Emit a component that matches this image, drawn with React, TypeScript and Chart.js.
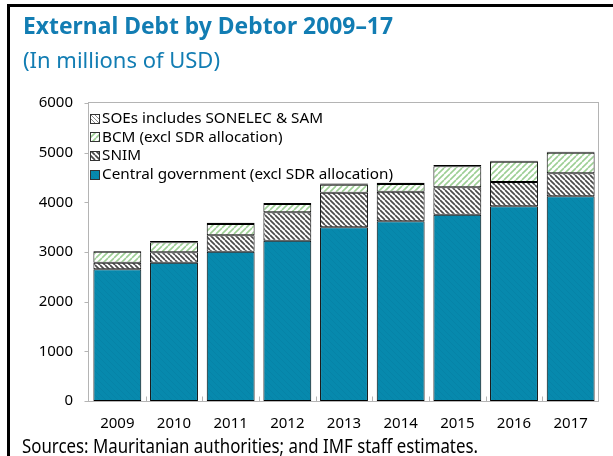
import React, { useEffect, useRef } from "react";
import { Chart, registerables } from "chart.js";

Chart.register(...registerables);

// ---- Data ----
const categories = ["2009", "2010", "2011", "2012", "2013", "2014", "2015", "2016", "2017"];
const centralGovernment = [2652, 2785, 3006, 3227, 3497, 3618, 3751, 3919, 4121];
const snim = [133, 209, 330, 572, 697, 597, 551, 490, 463];
const bcm = [221, 201, 228, 167, 161, 154, 423, 409, 415];
const soes = [15, 25, 25, 20, 25, 25, 25, 20, 20];
const yTickValues = [0, 1000, 2000, 3000, 4000, 5000, 6000];
const seriesNames = [
  "Central government (excl SDR allocation)",
  "SNIM",
  "BCM (excl SDR allocation)",
  "SOEs includes SONELEC & SAM",
];
const titleText = "External Debt by Debtor 2009\u201317";
const subtitleText = "(In millions of USD)";
const sourceText = "Sources: Mauritanian authorities; and IMF staff estimates.";

const FONT = "'Noto Sans', sans-serif";
const TITLE_COLOR = "#127db3";

function makePattern(bg: string, stroke: string, lw: number, size: number, dir: "up" | "down") {
  const c = document.createElement("canvas");
  c.width = size;
  c.height = size;
  const g = c.getContext("2d")!;
  g.fillStyle = bg;
  g.fillRect(0, 0, size, size);
  g.strokeStyle = stroke;
  g.lineWidth = lw;
  g.beginPath();
  for (const k of [-size, 0, size]) {
    if (dir === "down") {
      g.moveTo(k, 0);
      g.lineTo(k + size, size);
    } else {
      g.moveTo(k, size);
      g.lineTo(k + size, 0);
    }
  }
  g.stroke();
  return g.createPattern(c, "repeat")!;
}

export default function App() {
  const canvasRef = useRef<HTMLCanvasElement>(null);
  const titleRef = useRef<HTMLSpanElement>(null);
  const subRef = useRef<HTMLSpanElement>(null);
  const srcRef = useRef<HTMLSpanElement>(null);

  useEffect(() => {
    document.body.style.margin = "0";
    const fit = (el: HTMLElement | null, target: number) => {
      if (!el) return;
      el.style.transform = "";
      const w = el.getBoundingClientRect().width;
      if (w > 0) el.style.transform = `scaleX(${target / w})`;
    };
    fit(titleRef.current, 370);
    fit(subRef.current, 197);
    fit(srcRef.current, 456);

    const fills = [
      makePattern("#0789ad", "rgba(0,70,100,0.08)", 1, 6, "down"),
      makePattern("#ffffff", "#4a4a4a", 1.7, 5, "down"),
      makePattern("#ffffff", "#9dcf95", 1.6, 6, "up"),
      makePattern("#ffffff", "#8a8a8a", 1, 4, "down"),
    ];
    const series = [centralGovernment, snim, bcm, soes];

    const framePlugin = {
      id: "frame",
      beforeDatasetsDraw(chart: any) {
        const { ctx, chartArea } = chart;
        const { left, top, right, bottom } = chartArea;
        ctx.save();
        ctx.strokeStyle = "#b4b4b4";
        ctx.lineWidth = 1;
        const l = Math.round(left) - 0.5;
        const t = Math.round(top) - 0.5;
        const r = Math.round(right) - 0.5;
        const b = Math.round(bottom) + 0.5;
        ctx.strokeRect(l, t, r - l, b - t);
        ctx.beginPath();
        const ys = chart.scales.y;
        for (const v of yTickValues) {
          const y = Math.round(ys.getPixelForValue(v)) + 0.5;
          ctx.moveTo(l - 4, y);
          ctx.lineTo(l, y);
        }
        const xs = chart.scales.x;
        for (let i = 1; i < categories.length; i++) {
          const x = Math.round((xs.getPixelForValue(i - 1) + xs.getPixelForValue(i)) / 2) + 0.5;
          ctx.moveTo(x, b);
          ctx.lineTo(x, b - 5);
        }
        ctx.stroke();
        ctx.restore();
      },
    };

    const legendPlugin = {
      id: "customLegend",
      afterDraw(chart: any) {
        const { ctx } = chart;
        const ds = chart.data.datasets;
        ctx.save();
        ctx.font = `14px ${FONT}`;
        const longest = ctx.measureText(seriesNames[0]).width;
        const sx = 291 / longest;
        const startY = 118;
        const step = 18.7;
        const items = [...ds].reverse();
        items.forEach((d: any, i: number) => {
          const cy = startY + i * step;
          const bx = 90.5;
          const by = Math.round(cy - 4.5) + 0.5;
          ctx.fillStyle = d.backgroundColor;
          ctx.fillRect(bx, by, 9, 9);
          ctx.strokeStyle = "#333";
          ctx.lineWidth = 1;
          ctx.strokeRect(bx, by, 9, 9);
          ctx.save();
          ctx.translate(102, cy);
          ctx.scale(sx, 1);
          ctx.fillStyle = "#000";
          ctx.textBaseline = "middle";
          ctx.textAlign = "left";
          ctx.fillText(d.label, 0, 1);
          ctx.restore();
        });
        ctx.restore();
      },
    };

    const chart = new Chart(canvasRef.current!, {
      type: "bar",
      data: {
        labels: categories,
        datasets: series.map((d, i) => ({
          label: seriesNames[i],
          data: d,
          backgroundColor: fills[i] as any,
          borderColor: "#000",
          borderWidth: 1,
          borderSkipped: false,
          categoryPercentage: 1,
          barPercentage: 0.845,
        })),
      },
      options: {
        animation: false,
        responsive: false,
        maintainAspectRatio: false,
        layout: { padding: { left: 0, right: 14, top: 103, bottom: 0 } },
        plugins: { legend: { display: false }, tooltip: { enabled: false } },
        scales: {
          x: {
            stacked: true,
            offset: true,
            grid: { display: false, drawTicks: false },
            border: { display: false },
            ticks: { color: "#000", font: { family: FONT, size: 15 }, padding: 14, maxRotation: 0, autoSkip: false },
            afterFit: (s: any) => {
              s.height = 55;
            },
          },
          y: {
            stacked: true,
            min: 0,
            max: 6000,
            grid: { display: false, drawTicks: false },
            border: { display: false },
            ticks: {
              color: "#000",
              font: { family: FONT, size: 15 },
              padding: 16,
              callback: (v: any) => String(v),
            },
            afterBuildTicks: (s: any) => {
              s.ticks = yTickValues.map((v) => ({ value: v }));
            },
            afterFit: (s: any) => {
              s.width = 89;
            },
          },
        },
      },
      plugins: [framePlugin, legendPlugin],
    });
    return () => chart.destroy();
  }, []);

  const textBase: React.CSSProperties = {
    position: "absolute",
    whiteSpace: "nowrap",
    display: "inline-block",
    lineHeight: 1,
    transformOrigin: "left center",
    fontFamily: FONT,
  };

  return (
    <div style={{ position: "relative", width: 613, height: 456, overflow: "hidden", background: "#fff" }}>
      <canvas ref={canvasRef} width={613} height={456} style={{ position: "absolute", left: 0, top: 0, display: "block" }} />
      <div style={{ position: "absolute", left: 7, top: 4, width: 620, height: 460, borderLeft: "3px solid #000", borderTop: "3px solid #000" }} />
      <span ref={titleRef} style={{ ...textBase, left: 23, top: 14, fontSize: 23, fontWeight: 700, color: TITLE_COLOR }}>
        {titleText}
      </span>
      <span ref={subRef} style={{ ...textBase, left: 23, top: 47.5, fontSize: 22, color: TITLE_COLOR }}>
        {subtitleText}
      </span>
      <span ref={srcRef} style={{ ...textBase, left: 22, top: 435, fontSize: 20.5, color: "#000" }}>
        {sourceText}
      </span>
    </div>
  );
}
